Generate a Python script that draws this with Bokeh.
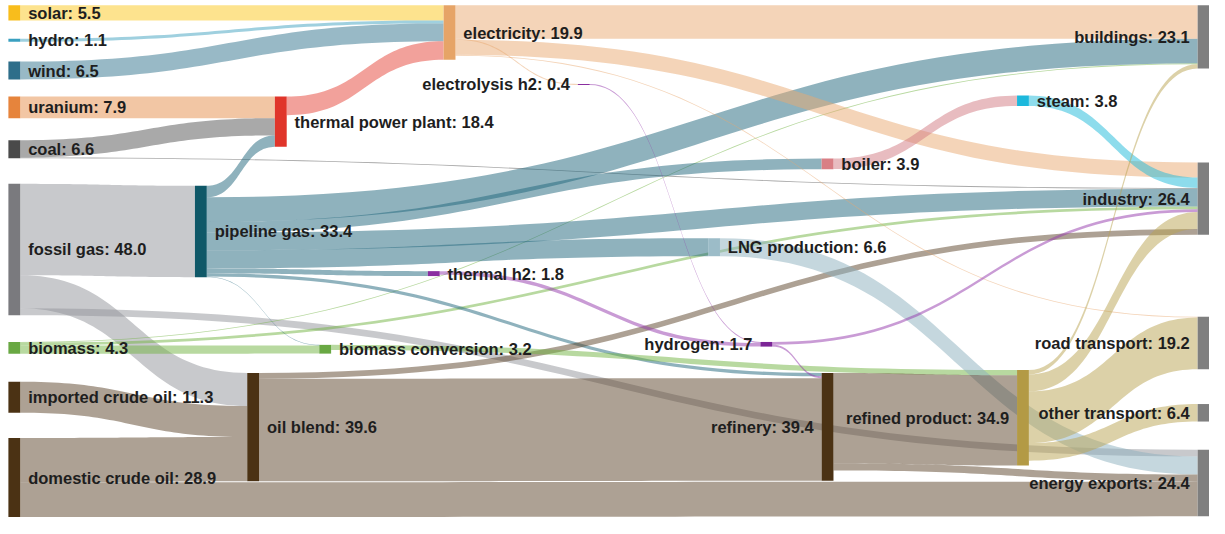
import numpy as np
from bokeh.plotting import figure
from bokeh.models import Range1d, ColumnDataSource
from bokeh.embed import file_html
from bokeh.resources import INLINE
from bokeh.core.properties import value

# ---------------- data ----------------
node_names = ["solar", "hydro", "wind", "uranium", "coal", "fossil gas", "biomass",
              "imported crude oil", "domestic crude oil", "pipeline gas", "oil blend",
              "thermal power plant", "biomass conversion", "thermal h2", "electricity",
              "electrolysis h2", "LNG production", "hydrogen", "boiler", "refinery",
              "steam", "refined product", "buildings", "industry", "road transport",
              "other transport", "energy exports"]
node_values = [5.5, 1.1, 6.5, 7.9, 6.6, 48.0, 4.3,
               11.3, 28.9, 33.4, 39.6,
               18.4, 3.2, 1.8, 19.9,
               0.4, 6.6, 1.7, 3.9, 39.4,
               3.8, 34.9, 23.1, 26.4, 19.2,
               6.4, 24.4]

link_sources = ["solar", "hydro", "wind", "uranium", "coal", "coal",
                "fossil gas", "fossil gas", "fossil gas",
                "biomass", "biomass", "biomass",
                "imported crude oil", "domestic crude oil", "domestic crude oil",
                "pipeline gas", "pipeline gas", "pipeline gas", "pipeline gas",
                "pipeline gas", "pipeline gas", "pipeline gas", "pipeline gas",
                "oil blend", "oil blend",
                "thermal power plant",
                "biomass conversion",
                "thermal h2",
                "electricity", "electricity", "electricity", "electricity",
                "electrolysis h2",
                "LNG production",
                "hydrogen", "hydrogen",
                "boiler",
                "refinery", "refinery",
                "steam",
                "refined product", "refined product", "refined product", "refined product"]
link_targets = ["electricity", "electricity", "electricity", "thermal power plant",
                "thermal power plant", "industry",
                "pipeline gas", "oil blend", "energy exports",
                "buildings", "industry", "biomass conversion",
                "oil blend", "oil blend", "energy exports",
                "thermal power plant", "buildings", "boiler", "industry",
                "LNG production", "thermal h2", "refinery", "biomass conversion",
                "industry", "refinery",
                "electricity",
                "refined product",
                "hydrogen",
                "buildings", "industry", "electrolysis h2", "road transport",
                "hydrogen",
                "energy exports",
                "industry", "refinery",
                "steam",
                "refined product", "energy exports",
                "industry",
                "buildings", "industry", "road transport", "other transport"]
link_values = [5.5, 1.1, 6.5, 7.9, 6.3, 0.3,
               33.4, 12.1, 2.5,
               0.3, 1.0, 3.0,
               11.3, 16.2, 12.7,
               4.2, 9.0, 3.9, 6.5, 6.6, 1.8, 1.2, 0.2,
               2.1, 37.5,
               6.8,
               1.9,
               1.3,
               12.2, 5.5, 0.4, 0.3,
               0.4,
               6.6,
               1.0, 0.7,
               3.8,
               33.0, 2.6,
               3.8,
               1.6, 6.2, 18.9, 6.4]

# ---------------- layout & style ----------------
K = 2.82          # screen units per value unit
NODE_W = 12
NODE_X = {"solar": 8, "hydro": 8, "wind": 8, "uranium": 8, "coal": 8, "fossil gas": 8,
          "biomass": 8, "imported crude oil": 8, "domestic crude oil": 8,
          "pipeline gas": 197, "oil blend": 250, "thermal power plant": 278,
          "biomass conversion": 323, "thermal h2": 433, "electricity": 449,
          "electrolysis h2": 585, "LNG production": 717, "hydrogen": 770,
          "boiler": 832, "refinery": 832, "steam": 1030, "refined product": 1030,
          "buildings": 1213, "industry": 1213, "road transport": 1213,
          "other transport": 1213, "energy exports": 1213}
NODE_Y = {"solar": 5, "hydro": 39.5, "wind": 63, "uranium": 99, "coal": 144,
          "fossil gas": 189, "biomass": 352, "imported crude oil": 393,
          "domestic crude oil": 451, "pipeline gas": 191, "oil blend": 384,
          "thermal power plant": 99, "biomass conversion": 355, "thermal h2": 279,
          "electricity": 5, "electrolysis h2": 86, "LNG production": 245,
          "hydrogen": 352, "boiler": 163, "refinery": 384, "steam": 98,
          "refined product": 381, "buildings": 5, "industry": 167,
          "road transport": 326, "other transport": 416, "energy exports": 463}
LEFT_LABEL = {"electrolysis h2", "hydrogen", "refinery", "refined product", "buildings",
              "industry", "road transport", "other transport", "energy exports"}
NODE_COLOR = {"solar": "#f8bd1c", "hydro": "#3aa0c0", "wind": "#2e6e8a",
              "uranium": "#e6843c", "coal": "#4a4a4a", "fossil gas": "#7a7a7e",
              "biomass": "#69a843", "imported crude oil": "#4b3214",
              "domestic crude oil": "#4b3214", "pipeline gas": "#0f5868",
              "oil blend": "#4b3214", "thermal power plant": "#e0352a",
              "biomass conversion": "#69a843", "thermal h2": "#8a2ea0",
              "electricity": "#e6a467", "electrolysis h2": "#8a2ea0",
              "LNG production": "#9cbcc8", "hydrogen": "#7b2596", "boiler": "#d97f85",
              "refinery": "#4b3214", "steam": "#1cb8dc", "refined product": "#b39a45"}
LINK_COLOR = {"solar": "#fbc71d", "hydro": "#3fa1bf", "wind": "#31738d",
              "uranium": "#e58d49", "coal": "#535353", "fossil gas": "#919399",
              "biomass": "#71b341", "imported crude oil": "#5b4329",
              "domestic crude oil": "#5b4329", "pipeline gas": "#1f657b",
              "oil blend": "#5b4329", "thermal power plant": "#e54337",
              "biomass conversion": "#71b341", "thermal h2": "#9337ab",
              "electricity": "#e9a971", "electrolysis h2": "#9337ab",
              "LNG production": "#8bafbd", "hydrogen": "#9337ab", "boiler": "#d17981",
              "refinery": "#5b4329", "steam": "#1db9d9", "refined product": "#b9a351"}
SINK_COLOR = "#7f7f7f"
OUT_ORDER = {"pipeline gas": ["thermal power plant", "buildings", "boiler", "industry",
                              "LNG production", "thermal h2", "refinery",
                              "biomass conversion"]}

# ---------------- compute layout ----------------
vals = dict(zip(node_names, node_values))
y0 = {n: NODE_Y[n] for n in node_names}
y1 = {n: NODE_Y[n] + vals[n] * K for n in node_names}

links = list(zip(link_sources, link_targets, link_values))
out_links = {n: [] for n in node_names}
in_links = {n: [] for n in node_names}
for i, (s, t, v) in enumerate(links):
    out_links[s].append(i)
    in_links[t].append(i)

src_off = {}
tgt_off = {}
for n in node_names:
    if n in OUT_ORDER:
        order = sorted(out_links[n], key=lambda i: OUT_ORDER[n].index(links[i][1]))
    else:
        order = sorted(out_links[n], key=lambda i: (y0[links[i][1]], i))
    pos = y0[n]
    for i in order:
        src_off[i] = pos
        pos += links[i][2] * K
    order = sorted(in_links[n], key=lambda i: (y0[links[i][0]], i))
    pos = y0[n]
    for i in order:
        tgt_off[i] = pos
        pos += links[i][2] * K

t = np.linspace(0, 1, 48)
b0 = (1 - t) ** 3 + 3 * (1 - t) ** 2 * t
b1 = 3 * (1 - t) * t ** 2 + t ** 3


def bez_x(xa, xb):
    xm = (xa + xb) / 2
    return (1 - t) ** 3 * xa + 3 * (1 - t) ** 2 * t * xm + 3 * (1 - t) * t ** 2 * xm + t ** 3 * xb


xs, ys, cols = [], [], []
for i, (s, tg, v) in enumerate(links):
    xa = NODE_X[s] + NODE_W
    xb = NODE_X[tg]
    w = v * K
    bx = bez_x(xa, xb)
    top = b0 * src_off[i] + b1 * tgt_off[i]
    bot = b0 * (src_off[i] + w) + b1 * (tgt_off[i] + w)
    xs.append(list(bx) + list(bx[::-1]))
    ys.append(list(top) + list(bot[::-1]))
    cols.append(LINK_COLOR[s])

link_src = ColumnDataSource(dict(xs=xs, ys=ys, color=cols))

node_src = ColumnDataSource(dict(
    left=[NODE_X[n] for n in node_names],
    right=[NODE_X[n] + NODE_W for n in node_names],
    top=[y0[n] for n in node_names],
    bottom=[y1[n] for n in node_names],
    color=[NODE_COLOR.get(n, SINK_COLOR) for n in node_names],
))

lab_r = dict(x=[], y=[], text=[])
lab_l = dict(x=[], y=[], text=[])
for n in node_names:
    txt = f"{n}: {vals[n]:.1f}"
    cy = (y0[n] + y1[n]) / 2
    if n in LEFT_LABEL:
        lab_l["x"].append(NODE_X[n] - 8)
        lab_l["y"].append(cy)
        lab_l["text"].append(txt)
    else:
        lab_r["x"].append(NODE_X[n] + NODE_W + 8)
        lab_r["y"].append(cy)
        lab_r["text"].append(txt)

# ---------------- figure ----------------
p = figure(width=1209, height=518, x_range=Range1d(0, 1225), y_range=Range1d(534, 0),
           output_backend="svg", toolbar_location=None, min_border=0,
           background_fill_color="white", border_fill_color="white")
p.axis.visible = False
p.grid.visible = False
p.outline_line_color = None

p.patches("xs", "ys", source=link_src, fill_color="color", fill_alpha=0.5, line_color=None)
p.quad(left="left", right="right", top="top", bottom="bottom", source=node_src,
       fill_color="color", line_color=None)

font = value("Liberation Sans")
p.text(x="x", y="y", text="text", source=ColumnDataSource(lab_r), text_font=font,
       text_font_size="16.5px", text_font_style="bold", text_color="#1e1e1e",
       text_align="left", text_baseline="middle")
p.text(x="x", y="y", text="text", source=ColumnDataSource(lab_l), text_font=font,
       text_font_size="16.5px", text_font_style="bold", text_color="#1e1e1e",
       text_align="right", text_baseline="middle")

open("out.html", "w").write(file_html(p, INLINE))
